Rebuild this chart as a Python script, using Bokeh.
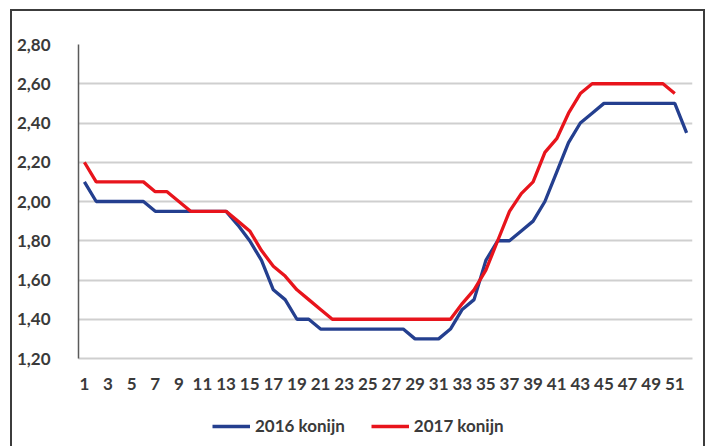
from bokeh.plotting import figure
from bokeh.layouts import column
from bokeh.models import FixedTicker, CustomJSTickFormatter, Legend, LegendItem, Range1d
from bokeh.embed import file_html
from bokeh.resources import INLINE

weeks = list(range(1, 53))
konijn_2016 = [2.10, 2.00, 2.00, 2.00, 2.00, 2.00, 1.95, 1.95, 1.95, 1.95,
               1.95, 1.95, 1.95, 1.88, 1.80, 1.70, 1.55, 1.50, 1.40, 1.40,
               1.35, 1.35, 1.35, 1.35, 1.35, 1.35, 1.35, 1.35, 1.30, 1.30,
               1.30, 1.35, 1.45, 1.50, 1.70, 1.80, 1.80, 1.85, 1.90, 2.00,
               2.15, 2.30, 2.40, 2.45, 2.50, 2.50, 2.50, 2.50, 2.50, 2.50,
               2.50, 2.35]
konijn_2017 = [2.20, 2.10, 2.10, 2.10, 2.10, 2.10, 2.05, 2.05, 2.00, 1.95,
               1.95, 1.95, 1.95, 1.90, 1.85, 1.75, 1.67, 1.62, 1.55, 1.50,
               1.45, 1.40, 1.40, 1.40, 1.40, 1.40, 1.40, 1.40, 1.40, 1.40,
               1.40, 1.40, 1.48, 1.55, 1.65, 1.80, 1.95, 2.04, 2.10, 2.25,
               2.32, 2.45, 2.55, 2.60, 2.60, 2.60, 2.60, 2.60, 2.60, 2.60,
               2.55]
x_ticks = [1, 3, 5, 7, 9, 11, 13, 15, 17, 19, 21, 23, 25, 27, 29, 31, 33, 35,
           37, 39, 41, 43, 45, 47, 49, 51]
y_ticks = [1.2, 1.4, 1.6, 1.8, 2.0, 2.2, 2.4, 2.6, 2.8]
labels = ["2016 konijn", "2017 konijn"]
colors = ["#243f8f", "#e8141c"]

FONT = "Lato"
TXT = "#3a3a3a"
BORDER = "2px solid #3c3c3c"

p = figure(width=695, height=387, output_backend="svg", toolbar_location=None,
           x_range=Range1d(0.5, 52.5), y_range=Range1d(1.2, 2.8),
           min_border_left=66, min_border_right=15, min_border_top=33,
           min_border_bottom=40)
p.styles = {"border-left": BORDER, "border-top": BORDER, "border-right": BORDER}
p.outline_line_color = None
p.border_fill_color = "white"

p.line(weeks, konijn_2016, line_color=colors[0], line_width=3.3)
p.line(weeks[:len(konijn_2017)], konijn_2017, line_color=colors[1], line_width=3.3)

p.xgrid.grid_line_color = None
p.ygrid.grid_line_color = "#cfcfcf"
p.ygrid.grid_line_width = 2
p.ygrid.ticker = FixedTicker(ticks=y_ticks)

p.xaxis.ticker = FixedTicker(ticks=x_ticks)
p.xaxis.axis_line_color = "#cfcfcf"
p.xaxis.axis_line_width = 2
p.xaxis.major_tick_line_color = None
p.xaxis.minor_tick_line_color = None
p.xaxis.major_label_standoff = 13
p.xaxis.major_label_text_font = FONT
p.xaxis.major_label_text_font_style = "bold"
p.xaxis.major_label_text_font_size = "17px"
p.xaxis.major_label_text_color = TXT

p.yaxis.ticker = FixedTicker(ticks=y_ticks)
p.yaxis.formatter = CustomJSTickFormatter(code="return tick.toFixed(2).replace('.', ',');")
p.yaxis.axis_line_color = "#5a5a5a"
p.yaxis.axis_line_width = 1.5
p.yaxis.major_tick_line_color = None
p.yaxis.minor_tick_line_color = None
p.yaxis.major_label_standoff = 22
p.yaxis.major_label_text_font = FONT
p.yaxis.major_label_text_font_style = "bold"
p.yaxis.major_label_text_font_size = "17px"
p.yaxis.major_label_text_color = TXT

# legend strip below the chart (series drawn outside its view, only the legend shows)
pl = figure(width=695, height=50, output_backend="svg", toolbar_location=None,
            x_axis_type=None, y_axis_type=None, x_range=Range1d(0, 1), y_range=Range1d(0, 1),
            min_border=0)
pl.styles = {"border-left": BORDER, "border-right": BORDER}
pl.outline_line_color = None
pl.grid.grid_line_color = None
l16 = pl.line(weeks, konijn_2016, line_color=colors[0], line_width=3.3)
l17 = pl.line(weeks[:len(konijn_2017)], konijn_2017, line_color=colors[1], line_width=3.3)
legend = Legend(items=[LegendItem(label=labels[0], renderers=[l16]),
                       LegendItem(label=labels[1], renderers=[l17])],
                orientation="horizontal", location=(134, 10),
                border_line_color=None, background_fill_alpha=0,
                label_text_font=FONT, label_text_font_style="bold",
                label_text_font_size="17px", label_text_color=TXT,
                glyph_width=38, glyph_height=16, label_height=16,
                label_standoff=5, spacing=26, margin=0, padding=2)
pl.add_layout(legend, "center")

layout = column(p, pl, spacing=0)
layout.styles = {"margin-left": "10px", "margin-top": "9px"}

open("out.html", "w").write(file_html(layout, INLINE))
